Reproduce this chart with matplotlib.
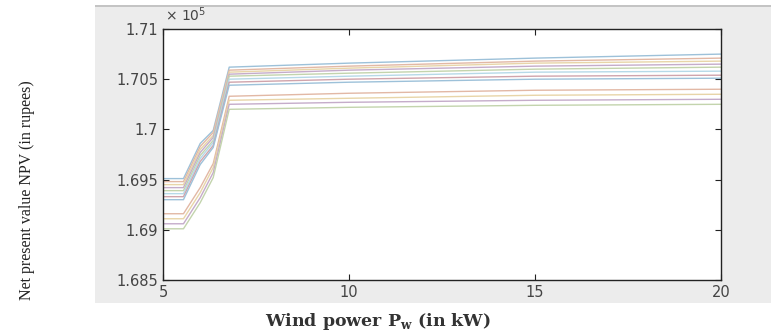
import matplotlib
matplotlib.use("Agg")
import matplotlib.pyplot as plt
from matplotlib.patches import Rectangle
import numpy as np

# ---- data (values in units of 1e5 rupees) ----
x_points = [5, 5.55, 6.0, 6.35, 6.78, 10, 15, 20]
series = [
    [1.6951, 1.6951, 1.6986, 1.6999, 1.7062, 1.7066, 1.7071, 1.7075],
    [1.6948, 1.6948, 1.6983, 1.6997, 1.7059, 1.7063, 1.7068, 1.7071],
    [1.6945, 1.6945, 1.6980, 1.6994, 1.7057, 1.7061, 1.7066, 1.7068],
    [1.6942, 1.6942, 1.6977, 1.6992, 1.7055, 1.7059, 1.7063, 1.7065],
    [1.6939, 1.6939, 1.6974, 1.6989, 1.7053, 1.7056, 1.7060, 1.7062],
    [1.6936, 1.6936, 1.6971, 1.6987, 1.7050, 1.7053, 1.7057, 1.7058],
    [1.6933, 1.6933, 1.6968, 1.6984, 1.7047, 1.7050, 1.7053, 1.7054],
    [1.6930, 1.6930, 1.6965, 1.6982, 1.7044, 1.7047, 1.7050, 1.7051],
    [1.6916, 1.6916, 1.6942, 1.6966, 1.7033, 1.7036, 1.7039, 1.7040],
    [1.6911, 1.6911, 1.6937, 1.6962, 1.7029, 1.7031, 1.7034, 1.7035],
    [1.6906, 1.6906, 1.6932, 1.6957, 1.7025, 1.7027, 1.7029, 1.7030],
    [1.6901, 1.6901, 1.6927, 1.6952, 1.7020, 1.7022, 1.7024, 1.7025],
]
x_ticks = [5, 10, 15, 20]
x_tick_labels = ["5", "10", "15", "20"]
y_ticks = [1.685, 1.69, 1.695, 1.7, 1.705, 1.71]
y_tick_labels = ["1.685", "1.69", "1.695", "1.7", "1.705", "1.71"]

base_colors = ["#0072BD", "#D95319", "#EDB120", "#7E2F8E", "#77AC30", "#4DBEEE", "#A2142F"]

def soften(hexc, a=0.45):
    c = np.array(matplotlib.colors.to_rgb(hexc))
    grey = np.array([0.5, 0.5, 0.5])
    c = 0.7 * c + 0.3 * grey
    return tuple(c * a + (1 - a))

W, H = 771, 335
fig = plt.figure(figsize=(W / 100, H / 100), dpi=100)
fig.patch.set_facecolor("white")

# grey MATLAB figure panel
fig.patches.append(Rectangle((95 / W, (H - 303) / H), (W - 95) / W, (303 - 6) / H,
                             transform=fig.transFigure, facecolor="#ececec",
                             edgecolor="none", zorder=-2))
fig.patches.append(Rectangle((95 / W, (H - 7) / H), (W - 95) / W, 2 / H,
                             transform=fig.transFigure, facecolor="#c4c4c4",
                             edgecolor="none", zorder=-2))

ax = fig.add_axes([163 / W, (H - 280) / H, 558 / W, 251 / H])
ax.set_zorder(1)
ax.set_facecolor("white")

for i, ys in enumerate(series):
    ax.plot(x_points, ys, color=soften(base_colors[i % len(base_colors)]), lw=1.0)

ax.set_xlim(5, 20)
ax.set_ylim(1.685, 1.71)
ax.set_xticks(x_ticks)
ax.set_xticklabels(x_tick_labels)
ax.set_yticks(y_ticks)
ax.set_yticklabels(y_tick_labels)
ax.tick_params(direction="in", top=True, right=True, length=4, width=0.8,
               labelsize=10.5, labelcolor="#444444", colors="#222222")
for lab in ax.get_xticklabels() + ax.get_yticklabels():
    lab.set_family("DejaVu Sans")
for s in ax.spines.values():
    s.set_color("#222222")
    s.set_linewidth(1.0)

fig.text(165 / W, (H - 15) / H, "× 10$^5$", fontsize=10, color="#444444",
         ha="left", va="center", family="DejaVu Sans")

fig.text(378 / W, (H - 322) / H, "Wind power P$_\\mathregular{w}$ (in kW)",
         fontsize=12.5, ha="center", va="center", family="DejaVu Serif",
         weight="bold", color="#333333")
fig.text(27 / W, (H - 190) / H, "Net present value NPV (in rupees)",
         fontsize=11.5, rotation=90, ha="center", va="center",
         family="Liberation Serif", color="#222222")

fig.savefig("out.png", dpi=100, facecolor="white")
